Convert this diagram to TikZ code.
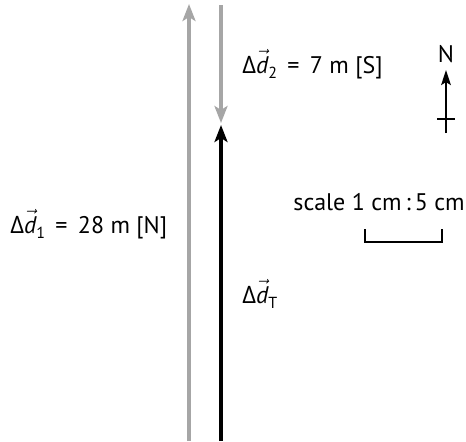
\documentclass[tikz,border=0pt]{standalone}
\usepackage{fontspec}
\setmainfont{PT Sans}
\newfontfamily\grk{Open Sans}
\usepackage{tikz}
\usetikzlibrary{positioning, arrows.meta}
\newcommand{\dvec}[1]{{\grk Δ}\ensuremath{\vec{\textit{d}}}\raisebox{-2.5pt}{\footnotesize #1}}

\begin{document}
\begin{tikzpicture}[
  x=0.5pt, y=-0.5pt,
  font=\fontsize{12}{14}\selectfont,
  lbl/.style={anchor=base west, inner sep=0pt},
  grayvec/.style={-{Stealth[length=8.5pt, width=6.5pt, inset=2pt]}, line width=2pt, draw=black!35},
  blackvec/.style={-{Stealth[length=8.5pt, width=6.5pt, inset=2pt]}, line width=2pt, draw=black},
  compass/.style={-{Stealth[length=7.5pt, width=4.8pt, inset=1.5pt]}, line width=1.2pt}
]
  \useasboundingbox (0,0) rectangle (466,441);
  \coordinate (d1start) at (189,441);
  \coordinate (d1end) at (189,4);
  \coordinate (d2start) at (221,5);
  \coordinate (d2end) at (221,123);
  \coordinate (dTstart) at (221,441);
  \coordinate (dTend) at (221,125);
  \draw[grayvec] (d1start) -- (d1end);
  \draw[grayvec] (d2start) -- (d2end);
  \draw[blackvec] (dTstart) -- (dTend);
  \node[lbl] (d2lbl) at (242,73) {\dvec{2}\, = \,7 m [S]};
  \node[lbl] (d1lbl) at (10,233) {\dvec{1}\, = \,28 m [N]};
  \node[lbl] (dTlbl) at (242,303) {\dvec{T}};
  \coordinate (nbase) at (446,133);
  \coordinate (ntip) at (446,70);
  \draw[compass] (nbase) -- (ntip);
  \draw[line width=1.2pt] (437,119) -- (455,119);
  \node[anchor=south, inner sep=0pt] (north) at (446,63) {N};
  \node[lbl] (scalelbl) at (293,210) {scale 1 cm\,:\,5 cm};
  \draw[line width=1.3pt] (365,229) -- (365,242) -- (442,242) -- (442,229);
\end{tikzpicture}
\end{document}
